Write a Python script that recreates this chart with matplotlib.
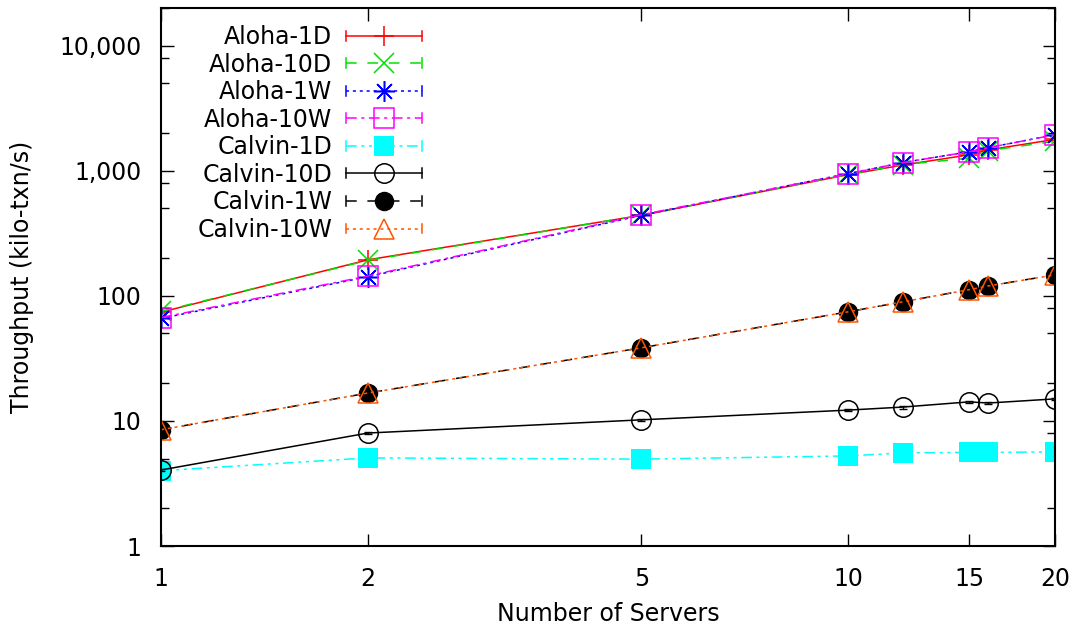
import numpy as np
import matplotlib
matplotlib.use('Agg')
import matplotlib.pyplot as plt
from matplotlib.lines import Line2D
from matplotlib.legend_handler import HandlerLine2D
from matplotlib.ticker import FixedLocator, FuncFormatter, NullFormatter

# Throughput results (kilo-txn/s) per cluster size
servers = [1, 2, 5, 10, 12, 15, 16, 20]

aloha_1d = [74, 194, 440, 930, 1110, 1340, 1470, 1780]
aloha_10d = [75, 192, 440, 935, 1120, 1260, 1450, 1720]
aloha_1w = [66, 142, 440, 950, 1160, 1420, 1530, 1940]
aloha_10w = [67, 144, 445, 946, 1160, 1420, 1530, 1940]
calvin_1d = [4.0, 5.06, 4.95, 5.25, 5.55, 5.6, 5.6, 5.65]
calvin_10d = [4.05, 8.0, 10.2, 12.2, 12.9, 14.2, 13.9, 15.0]
calvin_1w = [8.5, 16.7, 38.4, 74.5, 89.5, 112, 120, 147]
calvin_10w = [8.5, 16.7, 38.4, 74.5, 89.5, 112, 120, 147]

# Standard deviation of the runs
aloha_1d_err = [1, 2, 4, 10, 25, 30, 15, 20]
calvin_10d_err = [0.1, 0.1, 0.15, 0.3, 0.35, 0.2, 0.15, 0.2]
calvin_1w_err = [0.2, 0.3, 0.6, 1.5, 2.0, 2.5, 2.5, 3.0]

labels = ['Aloha-1D', 'Aloha-10D', 'Aloha-1W', 'Aloha-10W',
          'Calvin-1D', 'Calvin-10D', 'Calvin-1W', 'Calvin-10W']

ytick_vals = [1, 10, 100, 1000, 10000]
xtick_vals = [1, 2, 5, 10, 15, 20]


class GnuplotHandler(HandlerLine2D):
    """Legend sample with end caps, like gnuplot's errorlines keys."""
    def create_artists(self, legend, orig_handle, xdescent, ydescent,
                       width, height, fontsize, trans):
        artists = super().create_artists(legend, orig_handle, xdescent, ydescent,
                                         width, height, fontsize, trans)
        y = height / 2 - ydescent
        h = height * 0.3
        for x in (-xdescent, width - xdescent):
            cap = Line2D([x, x], [y - h, y + h], color=orig_handle.get_color(),
                         lw=1.1, transform=trans)
            artists.append(cap)
        return artists


plt.rcParams['font.family'] = 'DejaVu Sans'
plt.rcParams['font.size'] = 17

fig = plt.figure(figsize=(10.71, 6.28), dpi=100)
ax = fig.add_axes([161 / 1071, 1 - 546 / 628, 894 / 1071, 538 / 628])

series = [
    (aloha_1d, aloha_1d_err, dict(color='#ff0000', ls='-', marker='+', ms=14, mew=1.1)),
    (aloha_10d, None, dict(color='#00e000', ls=(0, (7, 7)), marker='x', ms=15, mew=1.1)),
    (aloha_1w, None, dict(color='#0000ff', ls=(0, (2, 2.5)), marker=(8, 2, 0), ms=15, mew=1.1)),
    (aloha_10w, None, dict(color='#ff00ff', ls=(0, (7, 3, 2, 3)), marker='s', ms=14,
                           mfc='none', mew=1.1)),
    (calvin_1d, None, dict(color='#00ffff', ls=(0, (7, 3, 2, 3, 2, 3)), marker='s', ms=14,
                           mew=0)),
    (calvin_10d, calvin_10d_err, dict(color='#000000', ls='-', marker='o', ms=14,
                                      mfc='none', mew=1.1)),
    (calvin_1w, calvin_1w_err, dict(color='#000000', ls=(0, (7, 7)), marker='o', ms=14,
                                    mew=0)),
    (calvin_10w, None, dict(color='#ff5500', ls=(0, (2, 2.5)), marker='^', ms=14,
                            mfc='none', mew=1.1)),
]

handles = []
for (vals, err, style), label in zip(series, labels):
    line, = ax.plot(servers, vals, lw=1.1, label=label, **style)
    if err is not None:
        ax.errorbar(servers, vals, yerr=err, fmt='none', ecolor=style['color'],
                    elinewidth=1.0, capsize=3, capthick=1.0)
    handles.append(line)

ax.set_xscale('log')
ax.set_yscale('log')
ax.set_xlim(1, 20)
ax.set_ylim(1, 20000)

ax.xaxis.set_major_locator(FixedLocator(xtick_vals))
ax.xaxis.set_major_formatter(FuncFormatter(lambda v, p: f'{v:g}'))
ax.xaxis.set_minor_locator(FixedLocator([]))
ax.yaxis.set_major_locator(FixedLocator(ytick_vals))
ax.yaxis.set_major_formatter(FuncFormatter(lambda v, p: f'{v:,.0f}'))
minor_y = [m * 10 ** k for k in range(0, 5) for m in (2, 5, 8)]
ax.yaxis.set_minor_locator(FixedLocator(minor_y))
ax.yaxis.set_minor_formatter(NullFormatter())

ax.tick_params(which='both', direction='in', top=True, right=True, width=1.0)
ax.tick_params(which='major', length=9)
ax.tick_params(which='minor', length=6)
ax.tick_params(axis='y', pad=14)
ax.tick_params(axis='x', pad=15)
for spine in ax.spines.values():
    spine.set_linewidth(1.5)

ax.set_xlabel('Number of Servers', labelpad=8)
ax.set_ylabel('Throughput (kilo-txn/s)', labelpad=18)

leg = ax.legend(handles=handles, loc='upper right',
                bbox_to_anchor=((422 - 161) / 894, 1 - 17 / 538),
                frameon=False, markerfirst=False, numpoints=1,
                handlelength=3.2, handletextpad=0.6, labelspacing=0.15,
                borderpad=0, borderaxespad=0,
                handler_map={Line2D: GnuplotHandler()})

fig.savefig('out.png', dpi=100)
